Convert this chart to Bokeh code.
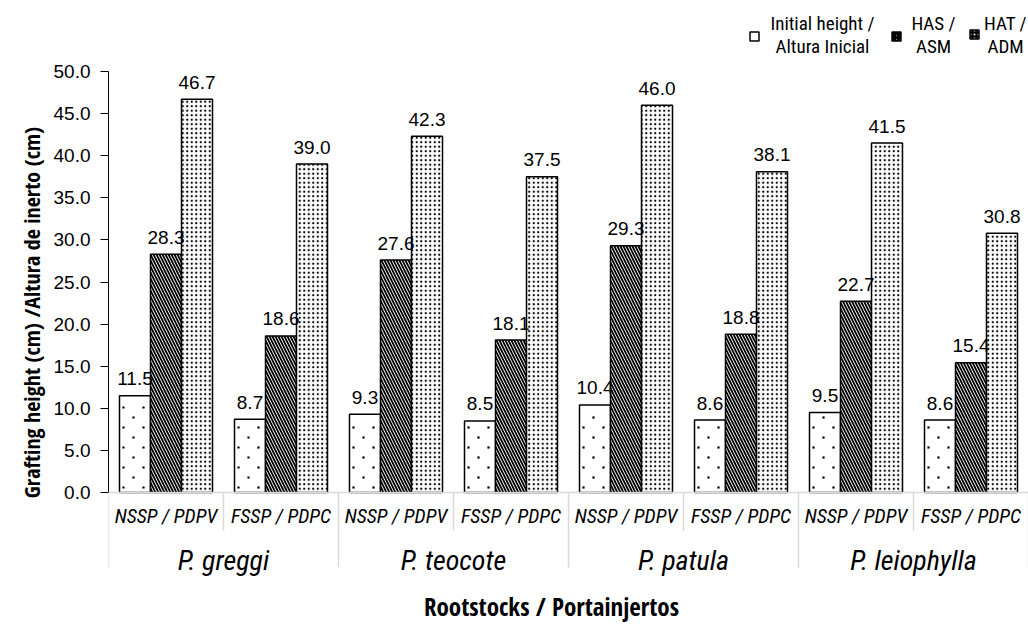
import numpy as np
from bokeh.plotting import figure
from bokeh.models import Range1d, FixedTicker, NumeralTickFormatter, Title, Span
from bokeh.core.properties import value
from bokeh.embed import file_html
from bokeh.resources import INLINE

# ---- data ----
species = ["P. greggi", "P. teocote", "P. patula", "P. leiophylla"]
rootstocks = ["NSSP / PDPV", "FSSP / PDPC"]
initial_height = [11.5, 8.7, 9.3, 8.5, 10.4, 8.6, 9.5, 8.6]
has_asm = [28.3, 18.6, 27.6, 18.1, 29.3, 18.8, 22.7, 15.4]
hat_adm = [46.7, 39.0, 42.3, 37.5, 46.0, 38.1, 41.5, 30.8]
series_names = [["Initial height /", "Altura Inicial"], ["HAS /", "ASM"], ["HAT /", "ADM"]]
y_ticks = [0, 5, 10, 15, 20, 25, 30, 35, 40, 45, 50]

# ---- layout ----
W, H = 1028, 624
LEFT = 108
PPU = 8.42              # pixels per cm
ZERO_FROM_TOP = 492     # canvas px of y=0
GROUP_PX = (W - LEFT) / 8.0

NUM_S = "Liberation Sans"
COND_S = "Roboto Condensed"
HEAVY_S = "Open Sans Condensed"
NUM = value(NUM_S)
COND = value(COND_S)
HEAVY = value(HEAVY_S)

def px2x(px):
    return (px - LEFT) / GROUP_PX

def py2y(py):
    return (ZERO_FROM_TOP - py) / PPU

p = figure(width=W, height=H, output_backend="svg", toolbar_location=None,
           x_range=Range1d(0, 8),
           y_range=Range1d(-(H - ZERO_FROM_TOP) / PPU, ZERO_FROM_TOP / PPU),
           min_border_left=LEFT, min_border_right=0, min_border_top=0, min_border_bottom=0)
p.xaxis.visible = False
p.xgrid.visible = False
p.ygrid.visible = False
p.outline_line_color = None
p.background_fill_color = "white"
p.border_fill_color = "white"

ya = p.yaxis[0]
ya.bounds = (0, 50)
ya.ticker = FixedTicker(ticks=y_ticks)
ya.formatter = NumeralTickFormatter(format="0.0")
ya.major_label_text_font = NUM_S
ya.major_label_text_font_size = "19px"
ya.major_label_text_color = "black"
ya.major_tick_out = 8
ya.major_tick_in = 0
ya.minor_tick_out = 0
ya.minor_tick_in = 0
ya.major_label_standoff = 10
ya.axis_line_color = "black"
ya.major_tick_line_color = "black"

# y axis title (left panel, shifted up to centre on the 0-50 span)
p.add_layout(Title(text="Grafting height (cm) /Altura de inerto (cm)", align="center", offset=38,
                   text_font=HEAVY_S, text_font_style="bold", text_font_size="22px",
                   text_color="black"), "left")

n = len(initial_height)
idx = np.arange(n)
bw = 31 / GROUP_PX
centers = idx + 0.5

styles = [
    dict(),
    dict(hatch_pattern="left_diagonal_line", hatch_scale=6, hatch_weight=1.8),
    dict(hatch_pattern="dot", hatch_scale=4.5, hatch_weight=1.0),
]
all_series = [initial_height, has_asm, hat_adm]
for j, (vals, st) in enumerate(zip(all_series, styles)):
    xs = centers + (j - 1) * bw
    p.vbar(x=xs, top=vals, width=bw, bottom=0, fill_color="white", line_color="black",
           line_width=1.5, hatch_color="black", **st)

# sparse staggered dot texture of the initial-height bars, derived from bar extents
dot_x, dot_y = [], []
for i, v in enumerate(initial_height):
    left = centers[i] - 1.5 * bw
    k = 0
    while 5 + 10 * k < v * PPU - 4:
        yk = (5 + 10 * k) / PPU
        offs = [4, 24] if k % 2 == 0 else [14]
        for o in offs:
            dot_x.append(left + o / GROUP_PX)
            dot_y.append(yk)
        k += 1
p.scatter(x=dot_x, y=dot_y, marker="square", size=2.2, fill_color="black", line_color=None)

for j, vals in enumerate(all_series):
    xs = centers + (j - 1) * bw
    p.text(x=xs, y=vals, text=[f"{v:.1f}" for v in vals], text_align="center",
           text_baseline="middle", y_offset=-17, text_font=NUM,
           text_font_size="19px", text_color="black")

# baseline and separators
GRID = "#d9d9d9"
p.add_layout(Span(location=0, dimension="width", line_color=GRID, line_width=1.5))
bounds = np.arange(0, n + 1)
long_b = bounds[bounds % 2 == 0]
short_b = bounds[bounds % 2 == 1]
p.segment(x0=long_b, y0=0, x1=long_b, y1=py2y(567), line_color=GRID, line_width=1.5)
p.segment(x0=short_b, y0=0, x1=short_b, y1=py2y(530), line_color=GRID, line_width=1.5)

# category labels
rs_labels = [rootstocks[i % 2] for i in range(n)]
p.text(x=centers, y=py2y(515), text=rs_labels, text_align="center", text_baseline="middle",
       text_font=COND, text_font_style="italic", text_font_size="20px", text_color="black")
sp_centers = np.arange(len(species)) * 2 + 1.0
p.text(x=sp_centers, y=py2y(560), text=species, text_align="center", text_baseline="middle",
       text_font=COND, text_font_style="italic", text_font_size="28px", text_color="black")

# x axis title
p.text(x=[px2x(551)], y=[py2y(605)], text=["Rootstocks / Portainjertos"], text_align="center",
       text_baseline="middle", text_font=HEAVY, text_font_style="bold",
       text_font_size="25px", text_color="black")

# legend
leg_sq = [(754, 36), (896, 36), (974, 34)]
leg_txt = [(822, 23, 46), (933, 23, 46), (1005, 23, 46)]
leg_styles = [
    dict(),
    dict(hatch_pattern="left_diagonal_line", hatch_scale=4, hatch_weight=1.8),
    dict(hatch_pattern="dot", hatch_scale=4, hatch_weight=1.0),
]
leg_fill = ["white", "white", "black"]
leg_hcol = ["black", "black", "white"]
for (sx, sy), (tx, t1, t2), st, fc, hc, names in zip(leg_sq, leg_txt, leg_styles, leg_fill,
                                                     leg_hcol, series_names):
    p.scatter(x=[px2x(sx)], y=[py2y(sy)], marker="square", size=9, fill_color=fc,
              line_color="black", line_width=1.5, hatch_color=hc, **st)
    p.text(x=[px2x(tx), px2x(tx)], y=[py2y(t1), py2y(t2)], text=names, text_align="center",
           text_baseline="middle", text_font=COND, text_font_size="19px", text_color="black")

open("out.html", "w").write(file_html(p, INLINE))
